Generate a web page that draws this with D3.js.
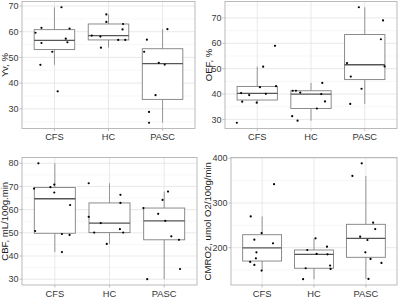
<!DOCTYPE html>
<html>
    <head>
        <meta charset="utf-8">
        <script src="https://cdn.jsdelivr.net/npm/d3@7"></script>
        <style>
            body { margin: 0; background: white; }
            text { font-family: "Liberation Sans", Arial, sans-serif; }
        </style>
        <script>
            // groups on the x axis
            var groups = ["CFS", "HC", "PASC"];

            // Yv, %  (one list per group, jitter is the horizontal offset in group units)
            var yv = [[69.5, 61.5, 61.2, 59.6, 57.3, 55.6, 55.9, 52.2, 47.1, 36.8],
                      [66.7, 63.8, 63.0, 60.9, 58.5, 58.1, 56.8, 56.8, 53.8],
                      [61.0, 56.9, 52.2, 47.9, 47.2, 35.3, 28.8, 24.6]];
            var yvJit = [[0.13, -0.24, 0.28, -0.35, 0.21, -0.24, 0.24, -0.04, -0.26, 0.06],
                         [-0.04, -0.04, 0.27, 0.26, -0.31, -0.15, 0.18, 0.31, -0.14],
                         [0.09, -0.29, -0.34, -0.07, 0.04, -0.13, -0.25, -0.25]];

            // OEF, %
            var oef = [[28.7, 37.0, 40.4, 39.6, 36.6, 42.7, 50.8, 40.1, 59.0, 43.1],
                       [31.3, 29.5, 41.3, 41.3, 40.6, 34.3, 40.0, 44.4, 37.1],
                       [74.2, 69.0, 61.6, 50.9, 52.2, 46.9, 42.1, 36.1]];
            var oefJit = [[-0.38, -0.28, -0.30, -0.15, -0.01, 0.05, 0.11, 0.16, 0.33, 0.35],
                          [-0.35, -0.25, -0.34, -0.28, -0.20, 0.11, 0.19, 0.21, 0.26],
                          [-0.11, 0.34, 0.30, 0.37, -0.33, -0.26, -0.06, -0.27]];

            // CBF, mL/100g.min
            var cbf = [[80.0, 69.1, 69.7, 70.8, 67.4, 62.0, 50.8, 49.5, 49.1, 41.7],
                       [71.4, 66.4, 62.9, 56.9, 54.2, 51.6, 50.1, 50.1, 45.2],
                       [60.7, 64.2, 67.8, 58.2, 55.2, 48.5, 47.0, 34.4, 30.0]];
            var cbfJit = [[-0.30, -0.38, -0.08, -0.01, -0.01, 0.28, -0.36, 0.13, 0.27, 0.13],
                          [-0.38, 0.20, 0.20, -0.38, -0.16, 0.19, -0.28, 0.25, -0.05],
                          [-0.38, -0.03, 0.07, -0.11, 0.02, 0.13, 0.27, 0.29, -0.31]];

            // CMRO2, umol O2/100g/min
            var cmro2 = [[342, 269.9, 232.7, 217.8, 209.7, 189.6, 176.2, 168.0, 161.3, 148.7],
                         [220.8, 129.4, 194.8, 186.0, 202.2, 185.1, 153.9, 159.9, 152.4],
                         [360.6, 388.8, 255.8, 241.6, 224.5, 217.1, 189.6, 174.7, 165.8, 130.0]];
            var cmro2Jit = [[0.23, -0.22, -0.01, -0.15, 0.21, -0.11, -0.12, -0.23, -0.15, -0.01],
                            [0.03, -0.21, -0.13, 0.05, 0.25, 0.26, -0.16, 0.31, 0.32],
                            [-0.26, -0.08, 0.14, 0.18, -0.11, 0.03, -0.01, 0.09, 0.30, 0.05]];

            // y tick labels
            var yvTicks = [30, 40, 50, 60, 70];
            var oefTicks = [30, 40, 50, 60, 70];
            var cbfTicks = [30, 40, 50, 60, 70, 80];
            var cmro2Ticks = [200, 300, 400];

            var titles = ["Yv, %", "OEF, %", "CBF, mL/100g.min", "CMRO2, umol O2/100g/min"];

            function boxStats(v) {
                var s = v.slice().sort(d3.ascending);
                var q1 = d3.quantile(s, 0.25), med = d3.quantile(s, 0.5), q3 = d3.quantile(s, 0.75);
                var iqr = q3 - q1;
                var lo = d3.min(s.filter(d => d >= q1 - 1.5 * iqr));
                var hi = d3.max(s.filter(d => d <= q3 + 1.5 * iqr));
                return { q1: q1, med: med, q3: q3, lo: lo, hi: hi };
            }

            function drawPanel(svg, box, values, jit, ticks, title) {

                var g = svg.append("g");

                // y scale, 5% padding like ggplot
                var ext = d3.extent(values.flat());
                var pad = (ext[1] - ext[0]) * 0.05;
                var ySc = d3.scaleLinear()
                            .domain([ext[0] - pad, ext[1] + pad])
                            .range([box.bottom, box.top]);

                var xSc = d3.scalePoint()
                            .domain(groups)
                            .range([box.left, box.right])
                            .padding(0.6);
                var step = xSc.step();

                // minor grid at half steps
                var half = (ticks[1] - ticks[0]) / 2;
                var minor = [];
                for (var t = ticks[0] - half; t <= ySc.domain()[1]; t += 2 * half) {
                    if (t >= ySc.domain()[0]) minor.push(t);
                }

                g.selectAll(".minor")
                 .data(minor)
                 .enter()
                 .append("line")
                 .attr("x1", box.left).attr("x2", box.right)
                 .attr("y1", d => ySc(d)).attr("y2", d => ySc(d))
                 .attr("stroke", "#efefef")
                 .attr("stroke-width", 0.5);

                g.selectAll(".major")
                 .data(ticks)
                 .enter()
                 .append("line")
                 .attr("x1", box.left).attr("x2", box.right)
                 .attr("y1", d => ySc(d)).attr("y2", d => ySc(d))
                 .attr("stroke", "#e3e3e3")
                 .attr("stroke-width", 0.8);

                g.selectAll(".xgrid")
                 .data(groups)
                 .enter()
                 .append("line")
                 .attr("x1", d => xSc(d)).attr("x2", d => xSc(d))
                 .attr("y1", box.top).attr("y2", box.bottom)
                 .attr("stroke", "#e3e3e3")
                 .attr("stroke-width", 0.8);

                // boxes
                var stats = values.map(boxStats);
                var bw = step * 0.75;

                groups.forEach(function (grp, i) {
                    var s = stats[i];
                    var cx = xSc(grp);

                    g.append("line")
                     .attr("x1", cx).attr("x2", cx)
                     .attr("y1", ySc(s.hi)).attr("y2", ySc(s.lo))
                     .attr("stroke", "#8c8c8c")
                     .attr("stroke-width", 0.9);

                    g.append("rect")
                     .attr("x", cx - bw / 2)
                     .attr("y", ySc(s.q3))
                     .attr("width", bw)
                     .attr("height", ySc(s.q1) - ySc(s.q3))
                     .attr("fill", "white")
                     .attr("stroke", "#7f7f7f")
                     .attr("stroke-width", 0.9);

                    g.append("line")
                     .attr("x1", cx - bw / 2).attr("x2", cx + bw / 2)
                     .attr("y1", ySc(s.med)).attr("y2", ySc(s.med))
                     .attr("stroke", "#555")
                     .attr("stroke-width", 1.3);
                });

                // jittered points
                var pts = [];
                groups.forEach(function (grp, i) {
                    values[i].forEach(function (v, j) {
                        pts.push([xSc(grp) + jit[i][j] * step, ySc(v)]);
                    });
                });

                g.selectAll("circle")
                 .data(pts)
                 .enter()
                 .append("circle")
                 .attr("cx", d => d[0])
                 .attr("cy", d => d[1])
                 .attr("r", 1.1)
                 .attr("fill", "black");

                // panel border
                g.append("rect")
                 .attr("x", box.left).attr("y", box.top)
                 .attr("width", box.right - box.left)
                 .attr("height", box.bottom - box.top)
                 .attr("fill", "none")
                 .attr("stroke", "#b3b3b3")
                 .attr("stroke-width", 0.9);

                // y axis ticks and labels
                var yAx = g.append("g");
                yAx.selectAll("line")
                   .data(ticks)
                   .enter()
                   .append("line")
                   .attr("x1", box.left - 2.5).attr("x2", box.left)
                   .attr("y1", d => ySc(d)).attr("y2", d => ySc(d))
                   .attr("stroke", "#b3b3b3")
                   .attr("stroke-width", 0.8);
                yAx.selectAll("text")
                   .data(ticks)
                   .enter()
                   .append("text")
                   .attr("x", box.left - 3.5)
                   .attr("y", d => ySc(d))
                   .attr("dy", "0.35em")
                   .attr("text-anchor", "end")
                   .attr("font-size", 9)
                   .attr("fill", "#3a3a3a")
                   .text(d => d);

                // x axis ticks and labels
                var xAx = g.append("g");
                xAx.selectAll("line")
                   .data(groups)
                   .enter()
                   .append("line")
                   .attr("x1", d => xSc(d)).attr("x2", d => xSc(d))
                   .attr("y1", box.bottom).attr("y2", box.bottom + 2.5)
                   .attr("stroke", "#b3b3b3")
                   .attr("stroke-width", 0.8);
                xAx.selectAll("text")
                   .data(groups)
                   .enter()
                   .append("text")
                   .attr("x", d => xSc(d))
                   .attr("y", box.bottom + 11.8)
                   .attr("text-anchor", "middle")
                   .attr("font-size", 9.3)
                   .attr("fill", "#333")
                   .text(d => d);

                // y title
                var ty = (box.top + box.bottom) / 2;
                g.append("text")
                 .attr("transform", `translate(${box.titleX},${ty}) rotate(-90)`)
                 .attr("text-anchor", "middle")
                 .attr("dy", "0.35em")
                 .attr("font-size", 9.6)
                 .attr("fill", "#1a1a1a")
                 .text(title);
            }

            function makeSVG() {

                var svg = d3.select("#fig");

                const panels = [
                    { left: 22,  right: 195, top: 1.5, bottom: 128.5, titleX: 5 },
                    { left: 225, right: 397, top: 1.5, bottom: 128.5, titleX: 209 },
                    { left: 22,  right: 197, top: 157.5, bottom: 285, titleX: 5 },
                    { left: 231, right: 397, top: 157.5, bottom: 285, titleX: 208 }
                ];

                drawPanel(svg, panels[0], yv, yvJit, yvTicks, titles[0]);
                drawPanel(svg, panels[1], oef, oefJit, oefTicks, titles[1]);
                drawPanel(svg, panels[2], cbf, cbfJit, cbfTicks, titles[2]);
                drawPanel(svg, panels[3], cmro2, cmro2Jit, cmro2Ticks, titles[3]);
            }
        </script>
    </head>
    <body onload="makeSVG()">

        <svg id="fig" width="400" height="307"></svg>

    </body>
</html>
